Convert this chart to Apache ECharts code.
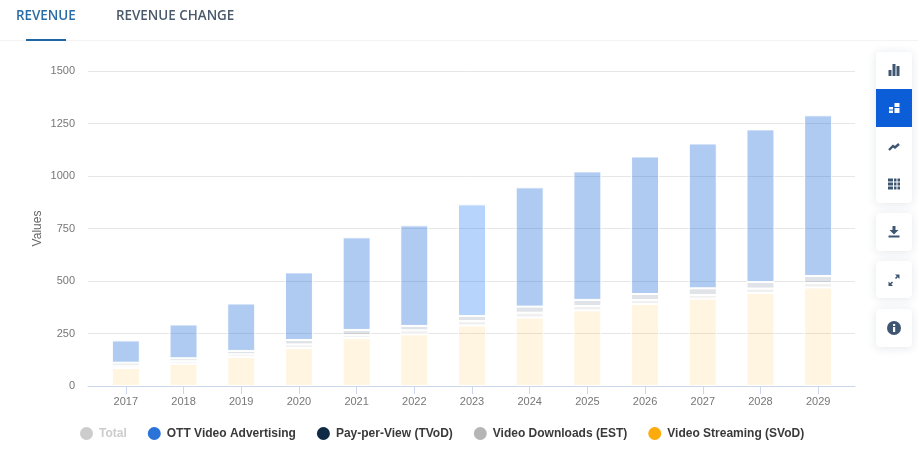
<!DOCTYPE html>
<html>
<head>
<meta charset="utf-8">
<title>Revenue</title>
<script src="https://cdn.jsdelivr.net/npm/echarts@6/dist/echarts.min.js"></script>
<style>
html, body { margin: 0; padding: 0; background: #fff; }
#grafico { width: 918px; height: 450px; }
</style>
</head>
<body>
<div id="grafico"></div>
<script>
var anos = ['2017', '2018', '2019', '2020', '2021', '2022', '2023', '2024', '2025', '2026', '2027', '2028', '2029'];
var svod = [86, 106, 138, 181, 228, 246, 288, 326, 360, 390, 416, 443, 469];
var est = [11, 12, 13, 17, 14, 19, 21, 23, 21, 19, 17, 21, 21];
var tvod = [14, 14, 16, 21, 25, 21, 24, 29, 29, 29, 32, 31, 34];
var ott = [106, 161, 226, 322, 441, 479, 532, 568, 612, 655, 690, 727, 765];
var total = [217, 293, 393, 541, 708, 765, 865, 946, 1022, 1093, 1155, 1222, 1289];
var abas = ['REVENUE', 'REVENUE CHANGE'];

var corIcone = '#3f5673';
var elementos = [];

function retangulo(x, y, w, h, cor) {
    elementos.push({ type: 'rect', shape: { x: x, y: y, width: w, height: h }, style: { fill: cor }, z: 12 });
}

function cartao(y, h) {
    elementos.push({
        type: 'rect',
        shape: { x: 876, y: y, width: 36, height: h, r: 4 },
        style: { fill: '#fff', shadowBlur: 10, shadowColor: 'rgba(60,80,110,0.14)', shadowOffsetY: 1 },
        z: 10
    });
}

function poligono(pontos, cor) {
    elementos.push({ type: 'polygon', shape: { points: pontos }, style: { fill: cor }, z: 12 });
}

// abas do topo
elementos.push({ type: 'text', x: 16, y: 10, style: { text: abas[0], fill: '#2a6ca8', font: '600 13.4px "Open Sans"' } });
elementos.push({ type: 'text', x: 116, y: 10, style: { text: abas[1], fill: '#4a5a6c', font: '600 13.4px "Open Sans"' } });
retangulo(0, 40, 918, 1, '#f3f3f3');
retangulo(26, 39, 40, 2, '#1f66a6');

// barra lateral
cartao(52, 151);
cartao(213, 38);
cartao(261, 37);
cartao(309, 38);
elementos.push({ type: 'rect', shape: { x: 876, y: 89, width: 36, height: 38 }, style: { fill: '#0b5ed7' }, z: 11 });

// colunas
retangulo(888.5, 70, 3, 6, corIcone);
retangulo(892.5, 64, 3, 12, corIcone);
retangulo(896.5, 66, 3, 10, corIcone);

// empilhado (ativo)
retangulo(889, 107, 4, 2.5, '#fff');
retangulo(889, 110.5, 4, 2.5, '#fff');
retangulo(894.5, 103, 5, 4, '#fff');
retangulo(894.5, 108, 5, 5, '#fff');

// tendencia
elementos.push({
    type: 'polyline',
    shape: { points: [[889, 150], [893, 146], [895, 147.5], [899, 144]] },
    style: { stroke: corIcone, lineWidth: 2.4, fill: null },
    z: 12
});

// tabela
[178.5, 182.5, 186.5].forEach(function (y) {
    retangulo(888, y, 5, 3, corIcone);
    retangulo(894, y, 2.5, 3, corIcone);
    retangulo(897.5, y, 2.5, 3, corIcone);
});

// download
retangulo(892.5, 226, 3, 5, corIcone);
poligono([[889.5, 230], [898.5, 230], [894, 234.5]], corIcone);
retangulo(888.5, 235.5, 11, 2, corIcone);

// expandir
poligono([[895, 274.5], [899.5, 274.5], [899.5, 279]], corIcone);
poligono([[888.5, 281.5], [888.5, 286], [893, 286]], corIcone);
elementos.push({
    type: 'line',
    shape: { x1: 890, y1: 284.5, x2: 892.5, y2: 282 },
    style: { stroke: corIcone, lineWidth: 1.6 },
    z: 12
});
elementos.push({
    type: 'line',
    shape: { x1: 895.5, y1: 278.5, x2: 898, y2: 276 },
    style: { stroke: corIcone, lineWidth: 1.6 },
    z: 12
});

// info
elementos.push({ type: 'circle', shape: { cx: 894, cy: 328, r: 7 }, style: { fill: corIcone }, z: 12 });
retangulo(893, 327, 2.2, 5, '#fff');
retangulo(893, 324, 2.2, 2, '#fff');

function serie(nome, valores, cor) {
    return {
        name: nome,
        type: 'bar',
        stack: 'receita',
        barWidth: 28,
        xAxisIndex: 0,
        yAxisIndex: 0,
        data: valores,
        itemStyle: { color: cor, borderColor: '#fff', borderWidth: 1 },
        emphasis: { disabled: true }
    };
}

var serieOtt = serie('OTT Video Advertising', ott.map(function (v, i) {
    // 2023 aparece mais claro na imagem
    return anos[i] == '2023' ? { value: v, itemStyle: { color: 'rgba(42,130,245,0.34)' } } : v;
}), 'rgba(30,105,215,0.35)');

var myChart = echarts.init(document.getElementById('grafico'));

var option = {
    animation: false,
    backgroundColor: '#fff',
    textStyle: { fontFamily: '"Liberation Sans", Arial, sans-serif' },
    grid: [
        { left: 97, top: 71, width: 750, height: 315 },
        { left: 88, top: 71, width: 767, height: 315 }
    ],
    xAxis: [
        {
            type: 'category',
            gridIndex: 0,
            data: anos,
            axisLine: { show: true, lineStyle: { color: 'rgba(0,0,0,0)' } },
            axisTick: { show: true, alignWithLabel: true, length: 8, lineStyle: { color: '#ccd6eb' } },
            axisLabel: { color: '#777', fontSize: 11, margin: 10 },
            splitLine: { show: false }
        },
        {
            type: 'category',
            gridIndex: 1,
            data: [''],
            axisLine: { lineStyle: { color: '#ccd6eb' } },
            axisTick: { show: false },
            axisLabel: { show: false }
        }
    ],
    yAxis: [
        { type: 'value', gridIndex: 0, min: 0, max: 1500, interval: 250, show: false, splitLine: { show: false } },
        {
            type: 'value',
            gridIndex: 1,
            min: 0,
            max: 1500,
            interval: 250,
            name: 'Values',
            nameLocation: 'middle',
            nameGap: 44,
            nameMoveOverlap: false,
            nameTextStyle: { color: '#666', fontSize: 12 },
            axisLine: { show: false },
            axisTick: { show: false },
            axisLabel: {
                color: '#777',
                fontSize: 11,
                margin: 13,
                formatter: function (v) { return String(v); }
            },
            splitLine: { lineStyle: { color: '#e6e6e6' } }
        }
    ],
    legend: {
        left: 75,
        top: 422,
        icon: 'circle',
        itemWidth: 13,
        itemHeight: 13,
        itemGap: 21,
        inactiveColor: '#ccc',
        textStyle: { color: '#3a3a3a', fontSize: 12, fontWeight: 'bold', padding: [0, 0, 0, 1] },
        selected: { 'Total': false },
        data: [
            { name: 'Total', textStyle: { fontWeight: 'bold' } },
            { name: 'OTT Video Advertising', itemStyle: { color: '#2a73d8', borderWidth: 0 } },
            { name: 'Pay-per-View (TVoD)', itemStyle: { color: '#0f2a44', borderWidth: 0 } },
            { name: 'Video Downloads (EST)', itemStyle: { color: '#b5b5b5', borderWidth: 0 } },
            { name: 'Video Streaming (SVoD)', itemStyle: { color: '#fbab0c', borderWidth: 0 } }
        ]
    },
    series: [
        serie('Video Streaming (SVoD)', svod, 'rgba(251,171,12,0.12)'),
        serie('Video Downloads (EST)', est, 'rgba(181,181,181,0.2)'),
        serie('Pay-per-View (TVoD)', tvod, 'rgba(15,42,68,0.13)'),
        serieOtt,
        { name: 'Total', type: 'line', xAxisIndex: 0, yAxisIndex: 0, data: total, itemStyle: { color: '#ccc' } }
    ],
    graphic: { elements: elementos }
};

myChart.setOption(option);
</script>
</body>
</html>
